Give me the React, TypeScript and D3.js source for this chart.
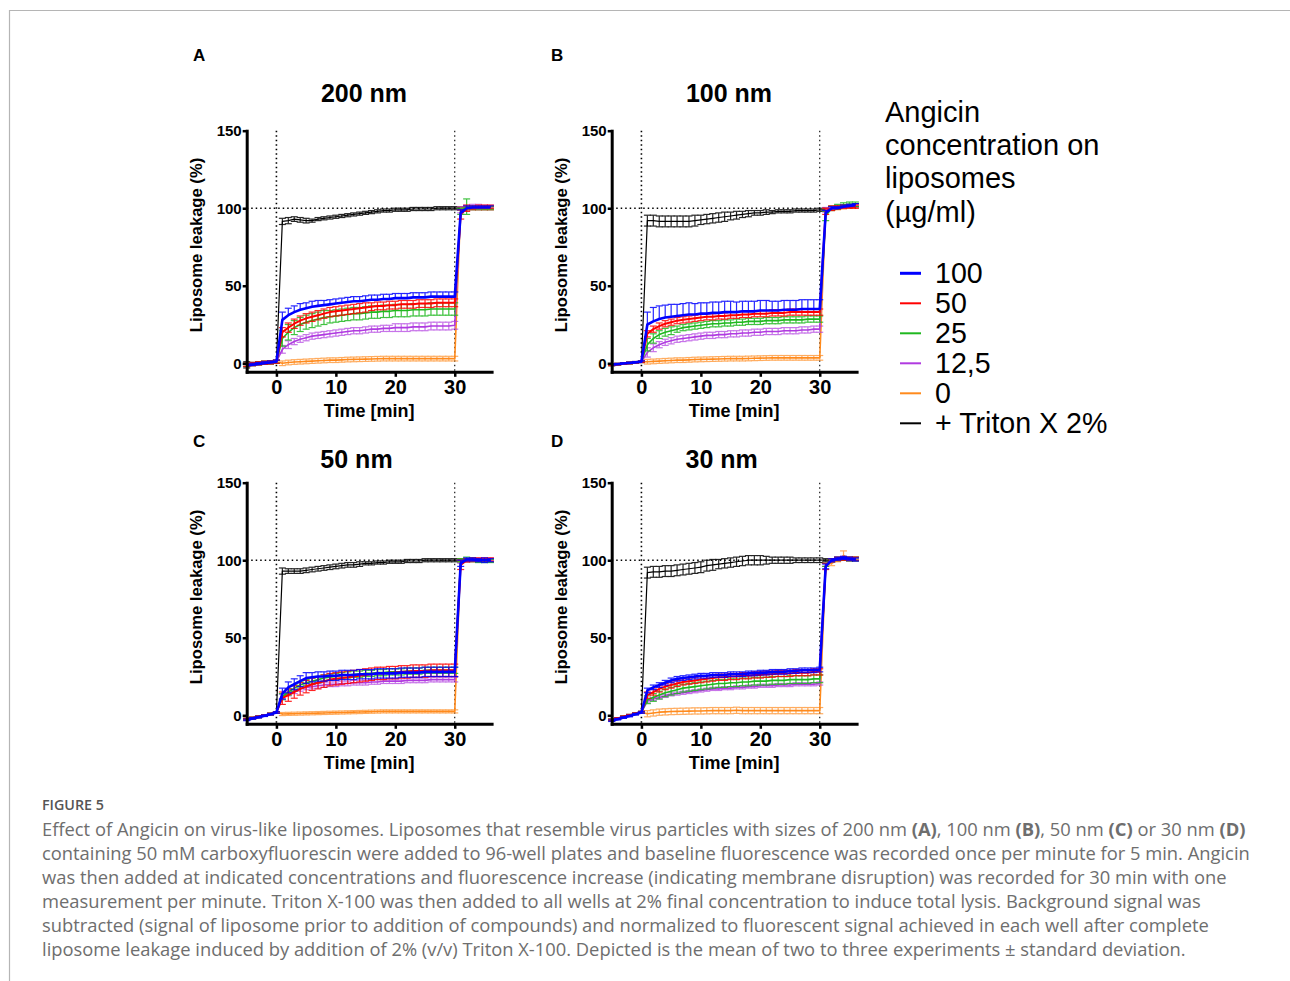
import React, { useEffect, useRef } from 'react';
import * as d3 from 'd3';

// time points (min): 5 min baseline, 30 min with Angicin, then Triton X-100
const TIME = [-5, -4, -3, -2, -1, 0, 1, 2, 3, 4, 5, 6, 7, 8, 9, 10, 11, 12, 13, 14, 15, 16, 17, 18, 19, 20, 21, 22, 23, 24, 25, 26, 27, 28, 29, 30, 31, 32, 33, 34, 35, 36];

const SERIES_NAMES = ['100', '50', '25', '12,5', '0', '+ Triton X 2%'];
const PANEL_KEYS = ['A', 'B', 'C', 'D'];
const PANEL_TITLES = ['200 nm', '100 nm', '50 nm', '30 nm'];
const Y_TICKS = [0, 50, 100, 150];
const X_TICKS = [0, 10, 20, 30];

// A - 200 nm
const A_BLUE = [-1.5, -1, -0.5, 0, 0.5, 1, 28, 31, 33, 34.5, 35.5, 36.5, 37, 37.5, 38, 38.5, 39, 39.5, 40, 40, 40.5, 41, 41, 41.5, 41.5, 42, 42, 42, 42.5, 42.5, 42.5, 43, 43, 43, 43, 43, 97, 100, 100.5, 100.5, 100.5, 100.5];
const A_BLUE_SD = [1, 1, 1, 1, 1, 1, 5, 4.5, 4, 4, 3.5, 3.5, 3.5, 3, 3, 3, 3, 3, 3, 3, 3, 3, 3, 3, 3, 3, 3, 3, 3, 3, 3, 3, 3, 3, 3, 3, 2, 1.5, 1, 1, 1, 1];
const A_RED = [-1, -0.5, 0, 0.3, 0.6, 1, 20, 23, 25.5, 27.5, 29, 30, 31, 32, 33, 33.5, 34, 34.5, 35, 35.5, 36, 36.5, 37, 37, 37.5, 37.5, 38, 38, 38, 38.5, 38.5, 38.5, 39, 39, 39, 39, 96, 100, 100.5, 101, 101, 101];
const A_RED_SD = [1, 1, 1, 1, 1, 1, 3, 3, 3, 3, 3, 3, 3, 3, 3, 3, 3, 3, 3, 3, 3, 2.5, 2.5, 2.5, 2.5, 2.5, 2.5, 2.5, 2.5, 2.5, 2.5, 2.5, 2.5, 2.5, 2.5, 2.5, 3, 2, 1, 1, 1, 1];
const A_GREEN = [-1, -0.5, 0, 0.3, 0.6, 1, 16, 20, 23, 25, 26.5, 27.5, 28.5, 29.5, 30, 30.5, 31, 31.5, 32, 32, 32.5, 33, 33, 33.5, 33.5, 34, 34, 34, 34.5, 34.5, 34.5, 35, 35, 35, 35, 35, 98, 101, 100.5, 100.5, 100.5, 100.5];
const A_GREEN_SD = [1, 1, 1, 1, 1, 1, 5, 5, 4.5, 4.5, 4.5, 4.5, 4.5, 4.5, 4, 4, 4, 4, 4, 4, 4, 4, 4, 4, 4, 4, 4, 4, 4, 4, 4, 4, 4, 4, 4, 4, 2, 5, 1, 1, 1, 1];
const A_PURPLE = [-1, -0.5, 0, 0.3, 0.6, 1, 9, 12, 14, 15.5, 16.5, 17.5, 18, 18.5, 19, 19.5, 20, 20.5, 21, 21, 21.5, 22, 22, 22.5, 22.5, 23, 23, 23, 23.5, 23.5, 23.5, 24, 24, 24, 24, 24.5, 99, 100, 101, 101, 101, 101];
const A_PURPLE_SD = [1, 1, 1, 1, 1, 1, 2.5, 2.5, 2, 2, 2, 2, 2, 2, 2, 2, 2, 2, 2, 2, 2, 2, 2, 2, 2, 2.5, 2.5, 2.5, 2.5, 2.5, 2.5, 2.5, 2.5, 2.5, 2.5, 2.5, 2, 2, 1.5, 1.5, 1, 1];
const A_ORANGE = [-1, -0.5, 0, 0.3, 0.6, 1, 0, 0.5, 0.8, 1, 1.2, 1.4, 1.6, 1.8, 2, 2, 2.2, 2.4, 2.5, 2.6, 2.7, 2.8, 2.9, 3, 3, 3, 3, 3, 3, 3, 3, 3, 3, 3, 3, 3, 100, 100, 100, 100, 100, 100];
const A_ORANGE_SD = [1, 1, 1, 1, 1, 1, 1.5, 1.5, 1.5, 1.5, 1.5, 1.5, 1.5, 1.5, 1.5, 1.5, 1.5, 1.5, 1.5, 1.5, 1.5, 1.5, 1.5, 1.5, 1.5, 1.5, 1.5, 1.5, 1.5, 1.5, 1.5, 1.5, 1.5, 1.5, 1.5, 1.5, 1, 1, 1, 1, 1, 1];
const A_BLACK = [-1, -0.5, 0, 0.3, 0.6, 1, 91.5, 92, 93, 92.5, 92, 92, 93, 93.5, 94, 94.5, 95, 95.5, 96, 96.5, 97, 97.5, 98, 98.5, 98.5, 99, 99, 99, 99.5, 99.5, 99.5, 99.5, 100, 100, 100, 100, 100, 100, 100, 100, 100, 100];
const A_BLACK_SD = [2, 1, 1, 1, 1, 1, 2, 2, 1.5, 1.5, 1.5, 1, 1, 1, 1, 1, 1, 1, 1, 1, 1, 1, 1, 1, 1, 1, 1, 1, 1, 1, 1, 1, 1, 1, 1, 1, 1, 1, 1, 1, 1, 1];

// B - 100 nm
const B_BLUE = [-1, -0.6, -0.2, 0.2, 0.6, 1, 25, 27, 28.5, 29.5, 30, 30.5, 31, 31.5, 31.5, 32, 32, 32.5, 32.5, 33, 33, 33, 33.5, 33.5, 33.5, 34, 34, 34, 34, 34.5, 34.5, 34.5, 35, 35, 35, 35, 97, 100, 100, 101, 101.5, 102];
const B_BLUE_SD = [0.5, 0.5, 0.5, 0.5, 0.5, 0.5, 8, 9, 8.5, 8, 8, 7.5, 7.5, 7.5, 7, 7, 7, 7, 7, 7, 7, 6.5, 6.5, 6.5, 6.5, 6.5, 6.5, 6, 6, 6, 6, 6, 6, 6, 6, 6, 1.5, 1, 1, 1, 1, 1];
const B_RED = [-1, -0.6, -0.2, 0.2, 0.6, 1, 19, 22, 24, 25.5, 26.5, 27.5, 28, 28.5, 29, 29.5, 30, 30, 30.5, 30.5, 31, 31, 31.5, 31.5, 32, 32, 32, 32.5, 32.5, 32.5, 33, 33, 33, 33, 33, 33, 98, 100, 100.5, 101, 101, 101];
const B_RED_SD = [0.5, 0.5, 0.5, 0.5, 0.5, 0.5, 2, 2, 2, 2, 2, 2, 2, 2, 2, 2, 2, 2, 2, 2, 2, 2, 2, 2, 2, 2, 2, 2, 2, 2, 2, 2, 2, 2, 2, 2, 2, 1.5, 1, 1, 1, 1];
const B_GREEN = [-1, -0.6, -0.2, 0.2, 0.6, 1, 12, 16, 18.5, 20, 21, 22, 23, 23.5, 24, 24.5, 25, 25.5, 25.5, 26, 26, 26.5, 26.5, 27, 27, 27, 27.5, 27.5, 27.5, 28, 28, 28, 28, 28.5, 28.5, 28.5, 95, 100, 101, 102, 102.5, 102.5];
const B_GREEN_SD = [0.5, 0.5, 0.5, 0.5, 0.5, 0.5, 4, 3, 2.5, 2.5, 2.5, 2, 2, 2, 2, 2, 2, 2, 2, 2, 2, 2, 2, 2, 2, 2, 2, 2, 2, 2, 2, 2, 2, 2, 2, 2, 3, 1.5, 1.5, 1.5, 1.5, 1.5];
const B_PURPLE = [-1, -0.6, -0.2, 0.2, 0.6, 1, 7, 10, 12, 13.5, 14.5, 15.5, 16, 16.5, 17, 17.5, 18, 18, 18.5, 18.5, 19, 19, 19.5, 19.5, 20, 20, 20.5, 20.5, 20.5, 21, 21, 21, 21.5, 21.5, 22, 22, 99, 100, 101, 101, 101.5, 101.5];
const B_PURPLE_SD = [0.5, 0.5, 0.5, 0.5, 0.5, 0.5, 3, 2.5, 2, 2, 2, 2, 2, 2, 2, 2, 2, 2, 2, 2, 2, 2, 2, 2, 2, 2, 2, 2, 2, 2, 2, 2, 2, 2, 2, 2, 1.5, 1, 1, 1, 1, 1];
const B_ORANGE = [-1, -0.6, -0.2, 0.2, 0.6, 1, 1, 1.2, 1.4, 1.6, 1.8, 2, 2, 2.2, 2.4, 2.5, 2.6, 2.7, 2.8, 2.9, 3, 3, 3, 3.1, 3.2, 3.3, 3.4, 3.5, 3.5, 3.5, 3.5, 3.5, 3.5, 3.5, 3.5, 3.5, 99, 100, 100, 100.5, 101, 101];
const B_ORANGE_SD = [0.5, 0.5, 0.5, 0.5, 0.5, 0.5, 1.5, 1.5, 1.5, 1.5, 1.5, 1.5, 1.5, 1.5, 1.5, 1.5, 1.5, 1.5, 1.5, 1.5, 1.5, 1.5, 1.5, 1.5, 1.5, 1.5, 1.5, 1.5, 1.5, 1.5, 1.5, 1.5, 1.5, 1.5, 1.5, 1.5, 1, 1, 1, 1, 1, 1];
const B_BLACK = [-1, -0.6, -0.2, 0.2, 0.6, 1, 92, 92, 91.5, 91.5, 91.5, 91.5, 91.5, 91.5, 92, 92.5, 93, 93.5, 94, 94.5, 95, 95.5, 96, 96.5, 97, 97, 97.5, 97.5, 98, 98, 98, 98.5, 98.5, 98.5, 98.5, 99, 99, 100, 100.5, 101, 101.5, 102];
const B_BLACK_SD = [0.5, 0.5, 0.5, 0.5, 0.5, 0.5, 3.5, 3.5, 3.5, 3.5, 3.5, 3.5, 3.5, 3.5, 3.5, 3, 3, 3, 3, 3, 2.5, 2.5, 2, 2, 1.5, 1.5, 1.5, 1, 1, 1, 1, 1, 1, 1, 1, 1, 1, 1, 1, 1, 1, 1];

// C - 50 nm
const C_BLUE = [-3, -2, -1.2, -0.3, 0.7, 1.8, 14, 18, 20, 22, 24, 24.5, 25, 25, 25.5, 25.5, 26, 26, 26, 26.5, 26.5, 26.5, 27, 27, 27, 27, 27.5, 27.5, 27.5, 27.5, 28, 28, 28, 28, 28, 28, 98, 100.5, 100.5, 100, 100, 100];
const C_BLUE_SD = [0.5, 0.5, 0.5, 0.5, 0.5, 0.5, 3.5, 3.5, 3.5, 3.5, 3.5, 3, 3, 3, 3, 3, 3, 3, 3, 3, 3, 3, 3, 3, 3, 3, 3, 3, 3, 3, 3, 3, 3, 3, 3, 3, 2, 1, 1, 1, 1.5, 1];
const C_RED = [-2.5, -1.8, -1, -0.2, 0.8, 1.8, 11, 13, 15, 17, 18.5, 20, 21, 22, 23, 23.5, 24, 24.5, 25, 25.5, 26, 26.5, 27, 27, 27.5, 27.5, 28, 28, 28.5, 28.5, 28.5, 29, 29, 29, 29, 29, 97, 100, 100.5, 100.5, 100.5, 100.5];
const C_RED_SD = [0.5, 0.5, 0.5, 0.5, 0.5, 0.5, 4, 4, 4, 4, 4, 4, 4, 4, 4, 4, 4, 4, 4, 4, 4, 4, 4, 4, 4, 4, 4, 4, 4, 4, 4, 4, 4, 4, 4, 4, 3, 1, 1, 1, 1, 1];
const C_GREEN = [-2.5, -1.8, -1, -0.2, 0.8, 1.8, 12, 15, 17.5, 19.5, 21, 22, 23, 24, 24.5, 25, 25.5, 26, 26.5, 26.5, 27, 27, 27.5, 27.5, 28, 28, 28, 28.5, 28.5, 28.5, 29, 29, 29, 29, 29, 29, 100, 101, 100.5, 99.5, 99.5, 99.5];
const C_GREEN_SD = [0.5, 0.5, 0.5, 0.5, 0.5, 0.5, 2, 2, 2, 2, 2, 2, 2, 2, 2, 2, 2, 2, 2, 2, 2, 2, 2, 2, 2, 2, 2, 2, 2, 2, 2, 2, 2, 2, 2, 2, 1, 1, 1, 1, 1, 1];
const C_PURPLE = [-2.5, -1.8, -1, -0.2, 0.8, 1.8, 12, 14, 15.5, 17, 18, 18.5, 19, 19.5, 20, 20, 20.5, 20.5, 21, 21, 21, 21.5, 21.5, 22, 22, 22, 22, 22.5, 22.5, 22.5, 22.5, 23, 23, 23, 23, 23, 99, 100, 100.5, 100.5, 100.5, 100.5];
const C_PURPLE_SD = [0.5, 0.5, 0.5, 0.5, 0.5, 0.5, 1.5, 1.5, 1.5, 1.5, 1.5, 1.5, 1.5, 1.5, 1.5, 1.5, 1.5, 1.5, 1.5, 1.5, 1.5, 1.5, 1.5, 1.5, 1.5, 1.5, 1.5, 1.5, 1.5, 1.5, 1.5, 1.5, 1.5, 1.5, 1.5, 1.5, 1, 1, 1, 1, 1, 1];
const C_ORANGE = [-2.5, -1.8, -1, -0.2, 0.8, 1.8, 0.8, 0.9, 1, 1.1, 1.2, 1.3, 1.4, 1.5, 1.6, 1.7, 1.8, 1.9, 2, 2.1, 2.2, 2.3, 2.4, 2.5, 2.5, 2.5, 2.5, 2.5, 2.5, 2.5, 2.5, 2.5, 2.5, 2.5, 2.5, 2.5, 100, 100, 100, 100, 100, 100];
const C_ORANGE_SD = [0.5, 0.5, 0.5, 0.5, 0.5, 0.5, 1, 1, 1, 1, 1, 1, 1, 1, 1, 1, 1, 1, 1, 1, 1, 1, 1, 1, 1, 1, 1, 1, 1, 1, 1, 1, 1, 1, 1, 1, 1, 1, 1, 1, 1, 1];
const C_BLACK = [-2.5, -1.8, -1, -0.2, 0.8, 1.8, 93, 93, 93, 93, 93.5, 94, 94.5, 95, 95.5, 96, 96.5, 97, 97, 97.5, 98, 98, 98.5, 98.5, 99, 99, 99, 99.5, 99.5, 99.5, 100, 100, 100, 100, 100, 100, 100, 100, 100, 100, 100, 100];
const C_BLACK_SD = [0.5, 0.5, 0.5, 0.5, 0.5, 0.5, 2, 1.5, 1.5, 1.5, 1.5, 1.5, 1.5, 1.5, 1.5, 1.5, 1.5, 1.5, 1.5, 1.5, 1, 1, 1, 1, 1, 1, 1, 1, 1, 1, 1, 1, 1, 1, 1, 1, 1, 1, 1, 1, 1, 1];

// D - 30 nm
const D_BLUE = [-3.5, -2.5, -1.5, -0.5, 0.7, 1.8, 16, 18, 19.5, 21, 22.5, 23.5, 24, 24.5, 25, 25.5, 25.5, 26, 26, 26, 26.5, 26.5, 26.5, 27, 27, 27.5, 27.5, 28, 28, 28, 28.5, 28.5, 29, 29, 29, 29.5, 96, 100, 101, 101.5, 101, 100.5];
const D_BLUE_SD = [0.5, 0.5, 0.5, 0.5, 0.5, 0.5, 1.5, 1.5, 1.5, 1.5, 1.5, 1.5, 1.5, 1.5, 1.5, 1.5, 1.5, 1.5, 1.5, 1.5, 1.5, 1.5, 1.5, 1.5, 1.5, 1.5, 1.5, 1.5, 1.5, 1.5, 1.5, 1.5, 1.5, 1.5, 1.5, 1.5, 1.5, 1, 1, 1, 1, 1];
const D_RED = [-3, -2, -1, 0, 1, 2, 13, 15, 17, 18.5, 19.5, 20.5, 21.5, 22, 22.5, 23, 23.5, 24, 24.5, 24.5, 25, 25, 25.5, 25.5, 26, 26, 26.5, 26.5, 27, 27, 27, 27.5, 27.5, 27.5, 28, 28, 96, 100, 101, 101, 101, 101];
const D_RED_SD = [0.5, 0.5, 0.5, 0.5, 0.5, 0.5, 2, 2, 2, 2, 2, 2, 2, 2, 2, 2, 2, 2, 2, 2, 2, 2, 2, 2, 2, 2, 2, 2, 2, 2, 2, 2, 2, 2, 2, 2, 2, 1, 1, 1, 1, 1];
const D_GREEN = [-3, -2, -1, 0, 1, 2, 10, 11.5, 13, 14.5, 15.5, 16.5, 17.5, 18, 18.5, 19, 19.5, 20, 20.5, 20.5, 21, 21, 21.5, 21.5, 22, 22, 22, 22.5, 22.5, 22.5, 23, 23, 23, 23, 23.5, 23.5, 97, 100, 101, 101, 101, 101];
const D_GREEN_SD = [0.5, 0.5, 0.5, 0.5, 0.5, 0.5, 2.5, 2.5, 2.5, 2.5, 2.5, 2.5, 2.5, 2.5, 2.5, 2.5, 2.5, 2.5, 2.5, 2.5, 2.5, 2.5, 2.5, 2.5, 2.5, 2.5, 2.5, 2.5, 2.5, 2.5, 2.5, 2.5, 2.5, 2.5, 2.5, 2.5, 1, 1, 1, 1, 1, 1];
const D_PURPLE = [-3, -2, -1, 0, 1, 2, 9, 10.5, 11.5, 12.5, 13.5, 14, 14.5, 15, 15.5, 16, 16.5, 17, 17, 17.5, 17.5, 18, 18, 18.5, 18.5, 19, 19, 19, 19.5, 19.5, 19.5, 20, 20, 20, 20, 20.5, 97, 100, 101, 101.5, 101, 101];
const D_PURPLE_SD = [0.5, 0.5, 0.5, 0.5, 0.5, 0.5, 1, 1, 1, 1, 1, 1, 1, 1, 1, 1, 1, 1, 1, 1, 1, 1, 1, 1, 1, 1, 1, 1, 1, 1, 1, 1, 1, 1, 1, 1, 1, 1, 1, 1, 1, 1];
const D_ORANGE = [-3, -2, -1, 0, 1, 2, 1, 1.5, 2, 2.2, 2.4, 2.5, 2.6, 2.7, 2.8, 2.8, 2.9, 3, 3, 3, 3, 3.2, 3, 3, 3, 3, 3, 3, 3, 3, 3, 3, 3, 3, 3, 3, 97, 98, 100, 103, 101, 101];
const D_ORANGE_SD = [0.5, 0.5, 0.5, 0.5, 0.5, 0.5, 2, 2, 2, 2, 2, 2, 2, 2, 2, 2, 2, 2, 2, 2, 2, 2, 2, 2, 2, 2, 2, 2, 2, 2, 2, 2, 2, 2, 2, 2, 1, 1.5, 1, 3, 1, 1];
const D_BLACK = [-3, -2, -1, 0, 1, 2, 92, 92.5, 92.5, 93, 93, 93.5, 94, 94.5, 95, 95.5, 96.5, 97, 97.5, 98, 98.5, 99, 99.5, 100, 100, 100, 100, 100, 100, 100, 100, 100, 100, 100, 100, 100, 100, 100, 100.5, 101, 100.5, 100.5];
const D_BLACK_SD = [0.5, 0.5, 0.5, 0.5, 0.5, 0.5, 3.5, 3.5, 3.5, 3.5, 3.5, 3.5, 3.5, 3.5, 3.5, 3.5, 3.5, 3.5, 3, 3, 3, 3, 3, 3, 3, 3, 2.5, 2, 2, 2, 2, 1.5, 1.5, 1.5, 1.5, 1.5, 1, 1, 1, 1, 1, 1];

const LEGEND_TITLE = ['Angicin', 'concentration on', 'liposomes', '(µg/ml)'];

const CAPTION_LINES = [
  'Effect of Angicin on virus-like liposomes. Liposomes that resemble virus particles with sizes of 200 nm (A), 100 nm (B), 50 nm (C) or 30 nm (D)',
  'containing 50 mM carboxyfluorescin were added to 96-well plates and baseline fluorescence was recorded once per minute for 5 min. Angicin',
  'was then added at indicated concentrations and fluorescence increase (indicating membrane disruption) was recorded for 30 min with one',
  'measurement per minute. Triton X-100 was then added to all wells at 2% final concentration to induce total lysis. Background signal was',
  'subtracted (signal of liposome prior to addition of compounds) and normalized to fluorescent signal achieved in each well after complete',
  'liposome leakage induced by addition of 2% (v/v) Triton X-100. Depicted is the mean of two to three experiments ± standard deviation.',
];

// per panel: [100, 50, 25, 12.5, 0, Triton] means and SDs
const MEANS = [
  [A_BLUE, A_RED, A_GREEN, A_PURPLE, A_ORANGE, A_BLACK],
  [B_BLUE, B_RED, B_GREEN, B_PURPLE, B_ORANGE, B_BLACK],
  [C_BLUE, C_RED, C_GREEN, C_PURPLE, C_ORANGE, C_BLACK],
  [D_BLUE, D_RED, D_GREEN, D_PURPLE, D_ORANGE, D_BLACK],
];
const SDS = [
  [A_BLUE_SD, A_RED_SD, A_GREEN_SD, A_PURPLE_SD, A_ORANGE_SD, A_BLACK_SD],
  [B_BLUE_SD, B_RED_SD, B_GREEN_SD, B_PURPLE_SD, B_ORANGE_SD, B_BLACK_SD],
  [C_BLUE_SD, C_RED_SD, C_GREEN_SD, C_PURPLE_SD, C_ORANGE_SD, C_BLACK_SD],
  [D_BLUE_SD, D_RED_SD, D_GREEN_SD, D_PURPLE_SD, D_ORANGE_SD, D_BLACK_SD],
];

const COLORS = ['#0000ff', '#ff0000', '#1fb81f', '#b03ae0', '#ff8a1c', '#000000'];
const LINE_W = [2.6, 2, 1.6, 1.6, 1.6, 1.2];
const DRAW_ORDER = [5, 4, 3, 2, 1, 0];

const FONT = '"Liberation Sans", Arial, sans-serif';
const CAP_FONT = '"Open Sans", sans-serif';

// axis origin (left x, top y) and label positions for each panel
const LAYOUT = [
  { ax: 246.7, top: 130.7, letterX: 193, letterY: 61, titleX: 364, titleY: 101.7, upBlue: true },
  { ax: 611.7, top: 130.7, letterX: 551, letterY: 61, titleX: 729, titleY: 101.7, upBlue: true },
  { ax: 246.7, top: 482.7, letterX: 193, letterY: 447, titleX: 356.5, titleY: 467.7, upBlue: false },
  { ax: 611.7, top: 482.7, letterX: 551, letterY: 447, titleX: 721.7, titleY: 467.7, upBlue: false },
];

const App = () => {
  const svgRef = useRef<SVGSVGElement>(null);

  useEffect(() => {
    const svg = d3.select(svgRef.current);
    svg.selectAll('*').remove();

    svg.append('rect').attr('width', 1290).attr('height', 981).attr('fill', '#fff');
    // page frame
    svg.append('line').attr('x1', 9.5).attr('x2', 1290).attr('y1', 10.5).attr('y2', 10.5)
      .attr('stroke', '#b5b5b5').attr('stroke-width', 1.2);
    svg.append('line').attr('x1', 9.5).attr('x2', 9.5).attr('y1', 10).attr('y2', 981)
      .attr('stroke', '#b5b5b5').attr('stroke-width', 1.2);

    MEANS.forEach((panel, pi) => {
      const L = LAYOUT[pi];
      const x = d3.scaleLinear().domain([-5, 36.2]).range([L.ax, L.ax + 244.9]);
      const y = d3.scaleLinear().domain([-5.5, 150]).range([L.top + 241.1, L.top]);
      const g = svg.append('g');

      g.append('text').attr('x', L.letterX).attr('y', L.letterY).text(PANEL_KEYS[pi])
        .attr('font-family', FONT).attr('font-weight', 700).attr('font-size', 17);
      g.append('text').attr('x', L.titleX).attr('y', L.titleY).text(PANEL_TITLES[pi])
        .attr('text-anchor', 'middle').attr('font-family', FONT).attr('font-weight', 700).attr('font-size', 25);

      // dotted reference lines
      const dotted = (x1: number, y1: number, x2: number, y2: number, w: number) =>
        g.append('line').attr('x1', x1).attr('y1', y1).attr('x2', x2).attr('y2', y2)
          .attr('stroke', '#000').attr('stroke-width', w).attr('stroke-dasharray', '1.5,3');
      dotted(x(0), y(150), x(0), y(-5.5), 1.6);
      dotted(x(30), y(150), x(30), y(-5.5), 1.1);
      dotted(x(-5), y(100), x(36.2), y(100), 1.6);

      const line = d3.line<number>().x((_, i) => x(TIME[i])).y(d => y(d));

      DRAW_ORDER.forEach(si => {
        const vals = panel[si];
        const sd = SDS[pi][si];
        const col = COLORS[si];
        const upOnly = si === 0 && L.upBlue;
        const eg = g.append('g').attr('stroke', col).attr('stroke-width', 1.2)
          .attr('opacity', si === 3 || si === 4 ? 0.7 : 0.85);
        vals.forEach((m, i) => {
          const cx = x(TIME[i]);
          const yt = y(m + sd[i]);
          const yb = upOnly ? y(m) : y(m - sd[i]);
          eg.append('line').attr('x1', cx).attr('x2', cx).attr('y1', yt).attr('y2', yb);
          eg.append('line').attr('x1', cx - 3.5).attr('x2', cx + 3.5).attr('y1', yt).attr('y2', yt);
          if (!upOnly) eg.append('line').attr('x1', cx - 3.5).attr('x2', cx + 3.5).attr('y1', yb).attr('y2', yb);
        });
        g.append('path').datum(vals).attr('d', line).attr('fill', 'none')
          .attr('stroke', col).attr('stroke-width', LINE_W[si]).attr('stroke-linejoin', 'round');
      });

      // axes
      const yAxis = g.append('g').attr('transform', `translate(${L.ax},0)`)
        .call(d3.axisLeft(y).tickValues(Y_TICKS).tickSize(4).tickSizeOuter(0).tickPadding(1).tickFormat(d3.format('d')));
      yAxis.selectAll('text').attr('font-family', FONT).attr('font-weight', 700).attr('font-size', 15).attr('fill', '#000');
      yAxis.selectAll('line').attr('stroke-width', 2.5);
      yAxis.select('.domain').attr('stroke-width', 3).attr('stroke-linecap', 'square');

      const xAxis = g.append('g').attr('transform', `translate(0,${y(-5.5)})`)
        .call(d3.axisBottom(x).tickValues(X_TICKS).tickSize(5).tickSizeOuter(0).tickPadding(3));
      xAxis.selectAll('text').attr('font-family', FONT).attr('font-weight', 700).attr('font-size', 20).attr('fill', '#000');
      xAxis.selectAll('line').attr('stroke-width', 2.5);
      xAxis.select('.domain').attr('stroke-width', 3).attr('stroke-linecap', 'square');

      g.append('text').attr('x', (x(-5) + x(36.2)) / 2).attr('y', y(-5.5) + 45).text('Time [min]')
        .attr('text-anchor', 'middle').attr('font-family', FONT).attr('font-weight', 700).attr('font-size', 18);
      g.append('text').attr('transform', `translate(${L.ax - 45},${(y(150) + y(0)) / 2 - 2}) rotate(-90)`)
        .text('Liposome leakage (%)').attr('text-anchor', 'middle')
        .attr('font-family', FONT).attr('font-weight', 700).attr('font-size', 16.6);
    });

    // legend
    const lg = svg.append('g').attr('font-family', FONT).attr('fill', '#000');
    LEGEND_TITLE.forEach((t, i) => {
      lg.append('text').attr('x', 885).attr('y', 121.7 + i * 33.3).attr('font-size', 29).text(t);
    });
    SERIES_NAMES.forEach((t, i) => {
      const by = 283.3 + i * 30;
      lg.append('line').attr('x1', 900).attr('x2', 921).attr('y1', by - 10).attr('y2', by - 10)
        .attr('stroke', COLORS[i]).attr('stroke-width', i === 0 ? 3 : 2);
      lg.append('text').attr('x', 935).attr('y', by).attr('font-size', 28.6).text(t);
    });

    // caption
    svg.append('text').attr('x', 42).attr('y', 810).text('FIGURE 5')
      .attr('font-family', CAP_FONT).attr('font-weight', 600).attr('font-size', 14.3).attr('fill', '#555');
    CAPTION_LINES.forEach((ln, i) => {
      const t = svg.append('text').attr('x', 42).attr('y', 836 + i * 24)
        .attr('font-family', CAP_FONT).attr('font-size', 18.35).attr('fill', '#6e6e6e');
      ln.split(/(\([A-D]\))/).forEach(part => {
        if (!part) return;
        t.append('tspan').text(part).attr('font-weight', /^\([A-D]\)$/.test(part) ? 700 : 400);
      });
    });
  }, []);

  return (
    <svg ref={svgRef} width={1290} height={981}
      style={{ position: 'absolute', left: 0, top: 0, display: 'block' }} />
  );
};

export default App;
